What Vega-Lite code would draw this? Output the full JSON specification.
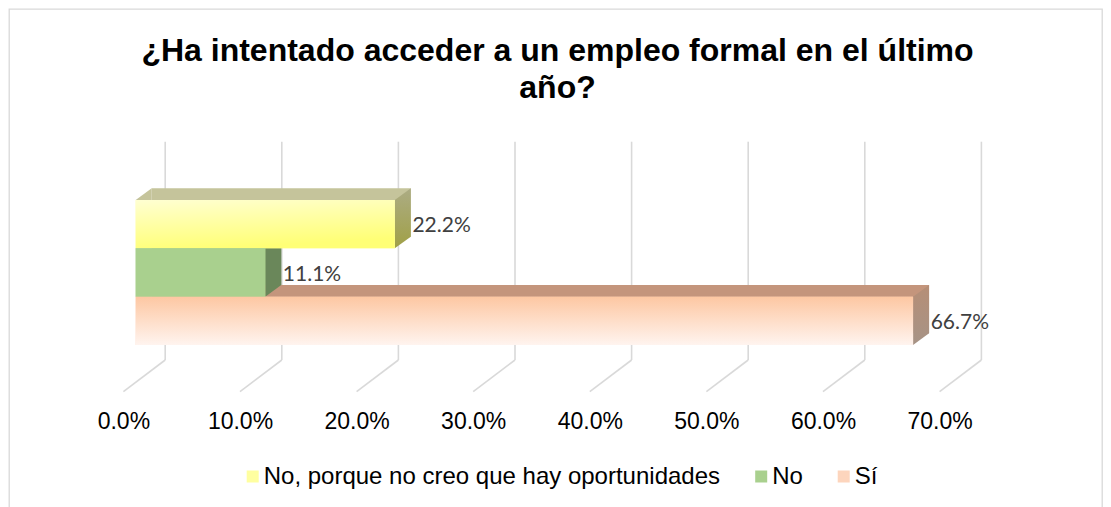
{
  "$schema": "https://vega.github.io/schema/vega-lite/v6.json",
  "autosize": "none",
  "padding": {"left": 9, "top": 9, "right": 9, "bottom": 0},
  "width": 1093,
  "height": 505,
  "background": "white",
  "config": {
    "font": "Liberation Sans",
    "view": {"stroke": "#d9d9d9", "strokeWidth": 1.3},
    "axisX": {"labelFont": "Liberation Sans", "labelFontSize": 23, "labelColor": "#000000", "ticks": false, "domain": false, "grid": false, "labelPadding": 0, "offset": -104, "labelOffset": -12.3, "labelFlush": false, "labelOverlap": false}
  },
  "title": {
    "text": ["¿Ha intentado acceder  a un empleo formal en el último", "año?"],
    "font": "Liberation Sans",
    "fontSize": 32,
    "fontWeight": "bold",
    "color": "#000000",
    "anchor": "middle",
    "baseline": "top",
    "lineHeight": 37,
    "offset": 0,
    "dx": 2,
    "dy": 95.5
  },
  "datasets": {
    "bars": [
      {"cat": "No, porque no creo que hay oportunidades", "v": 0.2222},
      {"cat": "No", "v": 0.1111},
      {"cat": "Sí", "v": 0.6667}
    ],
    "grid": [{"g": 0}, {"g": 0.1}, {"g": 0.2}, {"g": 0.3}, {"g": 0.4}, {"g": 0.5}, {"g": 0.6}, {"g": 0.7}]
  },
  "resolve": {"scale": {"y": "independent"}},
  "layer": [
    {
      "data": {"name": "grid"},
      "layer": [
        {
          "mark": {"type": "rule", "color": "#d9d9d9", "strokeWidth": 1.6, "xOffset": 29.5},
          "encoding": {
            "x": {"field": "g", "type": "quantitative", "title": null,
              "scale": {"domain": [-0.108662, 0.82873], "nice": false, "zero": false},
              "axis": {"values": [0, 0.1, 0.2, 0.3, 0.4, 0.5, 0.6, 0.7], "format": ".1%"}},
            "y": {"datum": 1, "type": "quantitative", "scale": {"domain": [-0.70545, 1.60788], "nice": false, "zero": false}, "axis": null},
            "y2": {"datum": 0}
          }
        },
        {
          "mark": {"type": "point", "shape": "M29.5,0L-12.3,31.7", "size": 4, "filled": false, "opacity": 1, "stroke": "#d9d9d9", "strokeWidth": 1.6, "fill": null},
          "encoding": {
            "x": {"field": "g", "type": "quantitative", "title": null},
            "y": {"datum": 0, "type": "quantitative", "axis": null}
          }
        }
      ]
    },
    {
      "data": {"name": "bars"},
      "layer": [
        {
          "mark": {"type": "bar", "xOffset": 16, "x2Offset": 16, "yOffset": -11.7, "y2Offset": -11.7},
          "encoding": {
            "y": {"field": "cat", "type": "nominal", "axis": null,
              "scale": {"domain": ["No, porque no creo que hay oportunidades", "No", "Sí"], "range": [191, 336], "paddingInner": 0, "paddingOuter": 0}},
            "x": {"field": "v", "type": "quantitative", "title": null},
            "x2": {"datum": 0},
            "fill": {"condition": [
              {"test": "datum.cat === 'No'", "value": "#8fae7a"},
              {"test": "datum.cat === 'Sí'", "value": "#c4957c"}
            ], "value": "#c5c49b"}
          }
        },
        {
          "mark": {"type": "point", "shape": "M0,-24.17L16,-35.87L16,-24.17Z", "size": 4, "filled": true, "opacity": 1, "strokeWidth": 0},
          "encoding": {
            "y": {"field": "cat", "type": "nominal", "axis": null},
            "x": {"datum": 0, "type": "quantitative"},
            "fill": {"condition": [
              {"test": "datum.cat === 'No'", "value": "#8fae7a"},
              {"test": "datum.cat === 'Sí'", "value": "#c4957c"}
            ], "value": "#c5c49b"}
          }
        },
        {
          "mark": {"type": "point", "shape": "M0,-24.17L16,-35.87L16,12.47L0,24.17Z", "size": 4, "filled": true, "opacity": 1, "strokeWidth": 0},
          "encoding": {
            "y": {"field": "cat", "type": "nominal", "axis": null},
            "x": {"field": "v", "type": "quantitative", "title": null},
            "fill": {"condition": [
              {"test": "datum.cat === 'No'", "value": "#6a875a"},
              {"test": "datum.cat === 'Sí'", "value": {"gradient": "linear", "x1": 0, "y1": 0, "x2": 0, "y2": 1, "stops": [{"offset": 0, "color": "#b68e76"}, {"offset": 1, "color": "#a69386"}]}}
            ], "value": {"gradient": "linear", "x1": 0, "y1": 0, "x2": 0, "y2": 1, "stops": [{"offset": 0, "color": "#acac84"}, {"offset": 1, "color": "#a0a046"}]}}
          }
        },
        {
          "mark": {"type": "bar"},
          "encoding": {
            "y": {"field": "cat", "type": "nominal", "axis": null},
            "x": {"field": "v", "type": "quantitative", "title": null},
            "x2": {"datum": 0},
            "fill": {"field": "cat", "type": "nominal",
              "scale": {"domain": ["No, porque no creo que hay oportunidades", "No", "Sí"], "range": ["#ffffa0", "#a9d08e", "#fdd5bd"]},
              "legend": {"title": null, "orient": "none", "direction": "horizontal", "legendX": 231.7, "legendY": 455.5,
                "symbolType": "square", "symbolSize": 144, "symbolStrokeWidth": 0, "labelFont": "Liberation Sans", "labelFontSize": 24, "labelColor": "#000000", "labelOffset": -1, "columnPadding": 28.5, "padding": 0, "labelLimit": 600}}
          }
        },
        {
          "mark": {"type": "bar"},
          "encoding": {
            "y": {"field": "cat", "type": "nominal", "axis": null},
            "x": {"field": "v", "type": "quantitative", "title": null},
            "x2": {"datum": 0},
            "fill": {"condition": [
              {"test": "datum.cat === 'No'", "value": "#a9d08e"},
              {"test": "datum.cat === 'Sí'", "value": {"gradient": "linear", "x1": 0, "y1": 0, "x2": 0, "y2": 1, "stops": [{"offset": 0, "color": "#fdc7a2"}, {"offset": 1, "color": "#fff4ef"}]}}
            ], "value": {"gradient": "linear", "x1": 0, "y1": 0, "x2": 0.3, "y2": 1, "stops": [{"offset": 0, "color": "#ffffd2"}, {"offset": 1, "color": "#ffff76"}]}}
          }
        },
        {
          "mark": {"type": "text", "align": "left", "baseline": "middle", "xOffset": 17.6, "yOffset": 2, "font": "Lato", "fontSize": 21, "color": "#404040"},
          "encoding": {
            "y": {"field": "cat", "type": "nominal", "axis": null},
            "x": {"field": "v", "type": "quantitative", "title": null},
            "text": {"field": "v", "type": "quantitative", "format": ".1%"}
          }
        }
      ]
    }
  ]
}
